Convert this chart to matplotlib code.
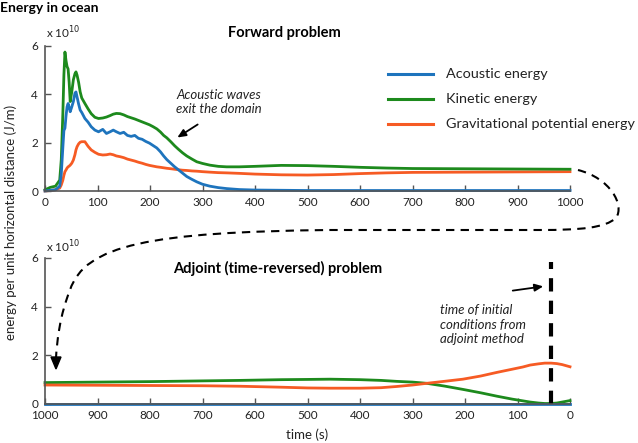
import numpy as np
import matplotlib
matplotlib.use("Agg")
import matplotlib.pyplot as plt
from matplotlib.path import Path
from matplotlib.patches import PathPatch
from matplotlib.lines import Line2D
from matplotlib.transforms import Affine2D

plt.rcParams["font.family"] = ["Lato", "DejaVu Sans"]

W, H = 638, 443

# Forward problem (time in s, energy in 1e10 J/m)
t_fwd = [0, 10, 20, 28, 31, 34, 36, 38, 40, 42, 44, 46, 48, 51, 54, 57, 59, 61, 64, 67,
         70, 76, 82, 88, 95, 102, 110, 117, 124, 130, 136, 143, 150, 157, 164, 171, 178,
         185, 192, 199, 206, 213, 220, 226, 232, 240, 247, 254, 262, 270, 280, 289, 300,
         314, 330, 346, 370, 400, 450, 500, 550, 600, 650, 700, 800, 900, 1000]

kinetic_fwd = [0.05, 0.15, 0.2, 0.45, 1.3, 3.2, 4.8, 5.75, 5.4, 5.15, 5.05, 4.5, 3.7, 4.1,
               4.6, 4.85, 4.93, 4.8, 4.5, 4.1, 3.85, 3.62, 3.4, 3.2, 3.05, 3.0, 3.02, 3.06,
               3.12, 3.18, 3.21, 3.2, 3.15, 3.08, 3.03, 2.98, 2.92, 2.86, 2.8, 2.74, 2.66,
               2.57, 2.44, 2.3, 2.2, 2.03, 1.87, 1.73, 1.58, 1.45, 1.32, 1.21, 1.14,
               1.07, 1.02, 1.0, 1.0, 1.02, 1.06, 1.05, 1.02, 0.98, 0.95, 0.93, 0.92,
               0.91, 0.9]

acoustic_fwd = [0.0, 0.03, 0.05, 0.2, 0.7, 1.8, 2.5, 2.6, 3.1, 3.48, 3.62, 3.45, 3.28, 3.48,
                3.7, 4.05, 4.1, 3.9, 3.6, 3.35, 3.25, 3.0, 2.85, 2.66, 2.52, 2.45, 2.55,
                2.38, 2.45, 2.52, 2.45, 2.38, 2.43, 2.3, 2.26, 2.3, 2.18, 2.14, 2.05, 1.98,
                1.88, 1.78, 1.62, 1.45, 1.3, 1.14, 1.0, 0.88, 0.74, 0.6, 0.48, 0.38, 0.28,
                0.2, 0.14, 0.1, 0.06, 0.04, 0.03, 0.02, 0.02, 0.02, 0.02, 0.02, 0.02,
                0.02, 0.02]

potential_fwd = [0.0, 0.02, 0.05, 0.12, 0.25, 0.45, 0.65, 0.8, 0.87, 0.95, 1.0, 1.03, 1.07,
                 1.15, 1.28, 1.5, 1.7, 1.83, 1.95, 2.02, 2.04, 2.04, 1.85, 1.7, 1.6, 1.52,
                 1.49, 1.5, 1.53, 1.5, 1.45, 1.42, 1.38, 1.32, 1.28, 1.24, 1.19, 1.15, 1.1,
                 1.06, 1.03, 1.0, 0.98, 0.96, 0.94, 0.92, 0.9, 0.88, 0.86, 0.85, 0.83,
                 0.82, 0.8, 0.78, 0.76, 0.75, 0.73, 0.7, 0.67, 0.66, 0.68, 0.72, 0.75,
                 0.77, 0.78, 0.79, 0.8]

# Adjoint (time-reversed) problem
t_adj = [1000, 900, 800, 700, 629, 550, 500, 457, 400, 360, 330, 300, 273, 240, 204, 170,
         139, 110, 90, 76, 60, 48, 36, 25, 15, 5, 0]

kinetic_adj = [0.88, 0.9, 0.92, 0.95, 0.97, 1.0, 1.01, 1.02, 1.0, 0.97, 0.93, 0.9, 0.85,
               0.74, 0.6, 0.46, 0.32, 0.2, 0.13, 0.08, 0.04, 0.02, 0.02, 0.04, 0.08,
               0.12, 0.14]

acoustic_adj = [0.02] * len(t_adj)

potential_adj = [0.78, 0.77, 0.76, 0.75, 0.73, 0.69, 0.66, 0.65, 0.65, 0.67, 0.72, 0.78,
                 0.85, 0.93, 1.02, 1.15, 1.3, 1.43, 1.52, 1.6, 1.65, 1.68, 1.68, 1.66,
                 1.62, 1.56, 1.53]

t_initial = 36  # time of initial conditions from the adjoint method

series_names = ["Acoustic energy", "Kinetic energy", "Gravitational potential energy"]
c_blue, c_green, c_orange = "#1e74bd", "#1d8a1d", "#f65b24"
axis_grey = "#555555"
lw = 2.0

fig = plt.figure(figsize=(W / 100, H / 100), dpi=100)
# pixel coordinates (from top-left) -> figure
pix = Affine2D().scale(1 / W, -1 / H).translate(0, 1) + fig.transFigure


def make_axes(top, bottom):
    ax = fig.add_axes([45 / W, 1 - bottom / H, 525 / W, (bottom - top) / H])
    ax.set_ylim(0, 6)
    ax.set_yticks([0, 2, 4, 6])
    ax.set_xticks(np.arange(0, 1001, 100))
    for s in ["top", "right"]:
        ax.spines[s].set_visible(False)
    for s in ["left", "bottom"]:
        ax.spines[s].set_color(axis_grey)
        ax.spines[s].set_linewidth(1.2)
    ax.tick_params(direction="in", length=4, width=1, color=axis_grey,
                   labelsize=8.5, labelcolor="#222222")
    ax.tick_params(axis="x", pad=4.5)
    ax.tick_params(axis="y", pad=5)
    ax.patch.set_alpha(0)
    return ax


ax1 = make_axes(46, 191)
ax1.set_xlim(0, 1000)
ax1.plot(t_fwd, potential_fwd, color=c_orange, lw=lw, clip_on=False)
ax1.plot(t_fwd, kinetic_fwd, color=c_green, lw=lw, clip_on=False)
ax1.plot(t_fwd, acoustic_fwd, color=c_blue, lw=lw, clip_on=False)

ax2 = make_axes(258, 404)
ax2.set_xlim(1000, 0)
ax2.plot(t_adj, kinetic_adj, color=c_green, lw=lw, clip_on=False)
ax2.plot(t_adj, potential_adj, color=c_orange, lw=lw, clip_on=False)
ax2.plot(t_adj, acoustic_adj, color=c_blue, lw=lw, clip_on=False)
ax2.plot([t_initial, t_initial], [0, 5.85], color="black", lw=3,
         dashes=(3.2, 2.2), clip_on=False)

# texts
fig.text(0, 8, "Energy in ocean", transform=pix, fontsize=10, fontweight="bold",
         va="center", ha="left")
fig.text(284, 33, "Forward problem", transform=pix, fontsize=10.5, fontweight="bold",
         va="center", ha="center")
fig.text(278, 268, "Adjoint (time-reversed) problem", transform=pix, fontsize=10.5,
         fontweight="bold", va="center", ha="center")
for y in (33, 247):
    fig.text(46, y, r"x 10$^{10}$", transform=pix, fontsize=8.5, va="center", ha="left",
             color="#222222")
fig.text(11, 222, "energy per unit horizontal distance (J/m)", transform=pix,
         fontsize=9.5, rotation=90, va="center", ha="center", color="#222222")
fig.text(307, 435, "time (s)", transform=pix, fontsize=9.5, va="center", ha="center",
         color="#222222")

fig.text(176, 102, "Acoustic waves\nexit the domain", transform=pix, fontsize=9.5,
         style="italic", va="center", ha="left", linespacing=1.25, color="#222222")
fig.text(440, 325, "time of initial\nconditions from\nadjoint method", transform=pix,
         fontsize=9.5, style="italic", va="center", ha="left", linespacing=1.25,
         color="#222222")

arrow_kw = dict(arrowstyle="-|>,head_length=0.5,head_width=0.22", color="black", lw=1.3)
ax1.annotate("", xy=(175, 139), xytext=(200, 123), xycoords=pix, textcoords=pix,
             arrowprops=arrow_kw)
ax2.annotate("", xy=(546, 286), xytext=(510, 291), xycoords=pix, textcoords=pix,
             arrowprops=arrow_kw)

# legend
for i, (name, col) in enumerate(zip(series_names, [c_blue, c_green, c_orange])):
    y = 74 + 25 * i
    fig.add_artist(Line2D([388, 433], [y, y], transform=pix, color=col, lw=2.2))
    fig.text(446, y, name, transform=pix, fontsize=10.4, va="center", ha="left",
             color="#222222")

# dashed connector from the forward plot end to the adjoint start
verts = [(578, 170), (610, 178), (625, 205), (616, 218),
         (605, 228), (580, 230), (540, 230),
         (330, 230),
         (150, 232), (85, 245), (70, 290),
         (60, 315), (57, 340), (56, 358)]
codes = [Path.MOVETO, Path.CURVE4, Path.CURVE4, Path.CURVE4,
         Path.CURVE4, Path.CURVE4, Path.CURVE4,
         Path.LINETO,
         Path.CURVE4, Path.CURVE4, Path.CURVE4,
         Path.CURVE4, Path.CURVE4, Path.CURVE4]
fig.add_artist(PathPatch(Path(verts, codes), transform=pix, fill=False,
                         edgecolor="black", lw=1.5, linestyle=(0, (4, 3))))
fig.add_artist(plt.Polygon([(51, 357), (61, 357), (56, 369)], closed=True,
                           transform=pix, color="black"))

fig.savefig("out.png", dpi=100)
